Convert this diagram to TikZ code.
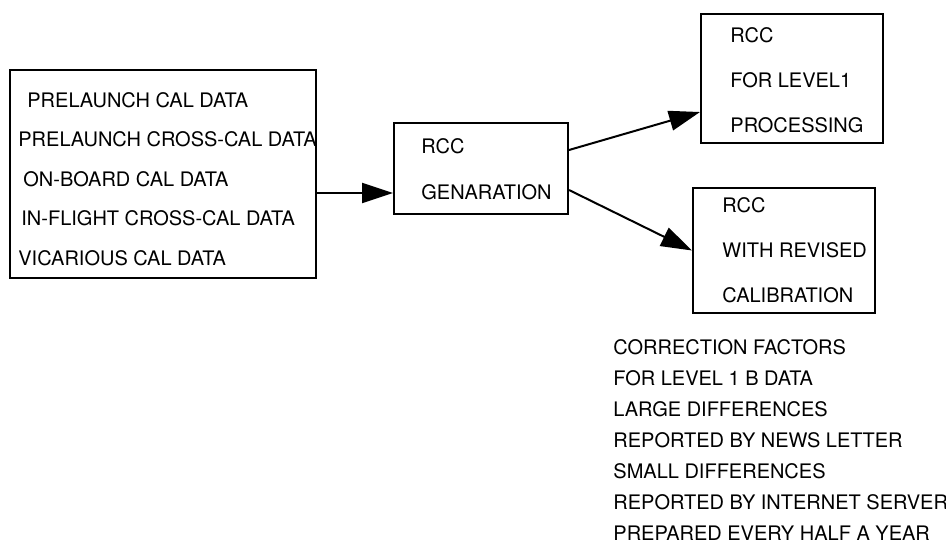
\documentclass[tikz,border=0pt]{standalone}
\usepackage{fontspec}
\setmainfont{TeX Gyre Heros}
\usetikzlibrary{arrows.meta,positioning}

\begin{document}
\begin{tikzpicture}[x=0.5pt,y=-0.5pt,
 font=\fontsize{10}{22.5}\selectfont,
 box/.style={draw=black,line width=1pt,inner sep=0pt},
 txt/.style={anchor=west,inner sep=0pt,align=left},
 flow/.style={-{Triangle[length=15.5pt,width=10pt]},line width=1pt}]
\useasboundingbox (0,0) rectangle (946,547);
% boxes
\node[box,minimum width=153pt,minimum height=104pt] (src) at (163,174) {};
\node[box,minimum width=87pt,minimum height=45.5pt] (gen) at (481,168.5) {};
\node[box,minimum width=91pt,minimum height=64.5pt] (out1) at (792,78.5) {};
\node[box,minimum width=91pt,minimum height=62.5pt] (out2) at (784,250.5) {};
% box texts
\node[txt,font=\fontsize{10}{19.75}\selectfont] (srctext) at (18,179)
 {\hspace*{4.5pt}PRELAUNCH CAL DATA\\PRELAUNCH CROSS-CAL DATA\\\hspace*{2.5pt}ON-BOARD CAL DATA\\\hspace*{1.5pt}IN-FLIGHT CROSS-CAL DATA\\VICARIOUS CAL DATA};
\node[txt,font=\fontsize{10}{23}\selectfont] (gentext) at (421,169) {RCC\\GENARATION};
\node[txt] (out1text) at (730,80) {RCC\\FOR LEVEL1\\PROCESSING};
\node[txt] (out2text) at (722,250) {RCC\\WITH REVISED\\CALIBRATION};
% notes below
\node[txt,font=\fontsize{10}{15.5}\selectfont] (notes) at (613,440)
 {CORRECTION FACTORS\\FOR LEVEL 1 B DATA\\LARGE DIFFERENCES\\REPORTED BY NEWS LETTER\\SMALL DIFFERENCES\\REPORTED BY INTERNET SERVER\\PREPARED EVERY HALF A YEAR};
% arrows
\draw[flow] ([yshift=-9.5pt]src.east)--([yshift=-12.25pt]gen.west);
\draw[flow] ([yshift=9.25pt]gen.east)--([yshift=-16.75pt]out1.west);
\draw[flow] ([yshift=-10.75pt]gen.east)--(out2.west);
\end{tikzpicture}
\end{document}
